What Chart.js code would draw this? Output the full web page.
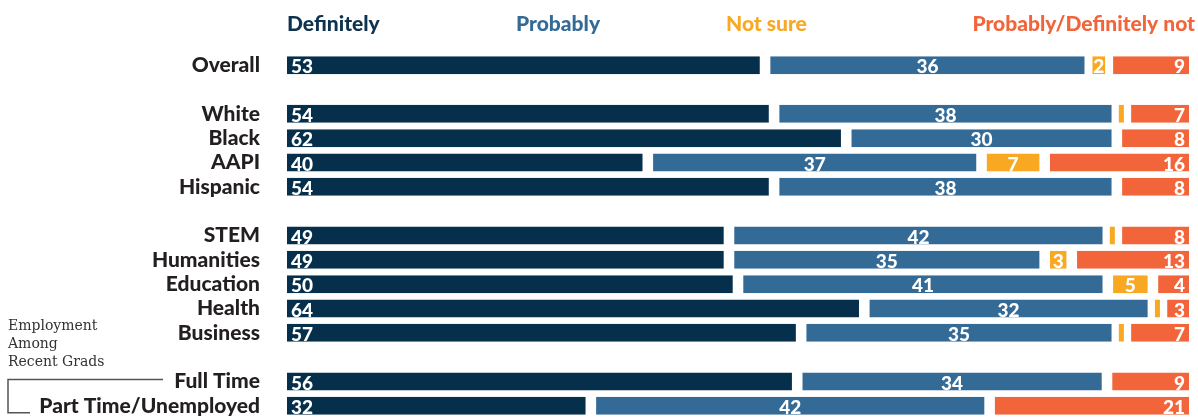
<!DOCTYPE html>
<html>
<head>
<meta charset="utf-8">
<script src="https://cdn.jsdelivr.net/npm/chart.js@4"></script>
<style>
  body { margin: 0; background: #fff; }
  #wrap { position: relative; width: 1198px; height: 419px; }
</style>
</head>
<body>
<div id="wrap"><canvas id="chart"></canvas></div>
<script>
// rows ('' = spacer row between groups)
const categories = ['Overall', '', 'White', 'Black', 'AAPI', 'Hispanic', '', 'STEM', 'Humanities', 'Education', 'Health', 'Business', '', 'Full Time', 'Part Time/Unemployed'];

const definitely    = [53, null, 54, 62, 40, 54, null, 49, 49, 50, 64, 57, null, 56, 32];
const probably      = [36, null, 38, 30, 37, 38, null, 42, 35, 41, 32, 35, null, 34, 42];
const notSure       = [2,  null, 1,  0,  7,  0,  null, 1,  3,  5,  1,  1,  null, 0,  0];
const definitelyNot = [9,  null, 7,  8,  16, 8,  null, 8,  13, 4,  3,  7,  null, 9,  21];

const seriesNames = ['Definitely', 'Probably', 'Not sure', 'Probably/Definitely not'];
const seriesColors = ['#052f4b', '#346a96', '#f8a821', '#f2653a'];
const seriesValues = [definitely, probably, notSure, definitelyNot];

// each row is drawn as a share of its own total, so every bar fills the width
const rowTotals = categories.map((c, i) => c ? definitely[i] + probably[i] + notSure[i] + definitelyNot[i] : 0);
const toShare = arr => arr.map((v, i) => v == null ? null : v / rowTotals[i] * 100);

const GAP = 5.3;

const datasets = seriesValues.map((vals, k) => ({
    label: seriesNames[k],
    data: toShare(vals),
    printed: vals,
    backgroundColor: seriesColors[k],
    borderColor: 'rgba(0,0,0,0)',
    borderSkipped: false,
    inflateAmount: 0,
    barThickness: 18,
    borderWidth: ctx => {
        const raw = vals[ctx.dataIndex];
        let g = GAP;
        if (raw != null && raw < 1.5) g = 2;
        else if (raw != null && raw < 3) g = 2.7;
        return { left: k === 0 ? 0 : g, right: k === 3 ? 0 : g, top: 0, bottom: 0 };
    }
}));

// numbers inside the bars
const valueLabels = {
    id: 'valueLabels',
    afterDatasetsDraw(chart) {
        const ctx = chart.ctx;
        ctx.save();
        ctx.font = '900 19px Lato';
        ctx.fillStyle = '#fff';
        ctx.textBaseline = 'middle';
        chart.data.datasets.forEach((ds, k) => {
            chart.getDatasetMeta(k).data.forEach((bar, j) => {
                const v = ds.printed[j];
                if (v == null || v < 2) return;
                const y = bar.y + 2;
                if (k === 0) {
                    ctx.textAlign = 'left';
                    ctx.fillText(v, bar.base + 4, y);
                } else if (k === 3) {
                    ctx.textAlign = 'right';
                    ctx.fillText(v, bar.x - 4, y);
                } else {
                    ctx.textAlign = 'center';
                    ctx.fillText(v, (bar.x + bar.base) / 2, y);
                }
            });
        });
        ctx.restore();
    }
};

// header row with the answer names
const header = {
    id: 'header',
    afterDraw(chart) {
        const ctx = chart.ctx;
        const pos = [[287, 'left'], [516, 'left'], [726, 'left'], [1195, 'right']];
        ctx.save();
        ctx.font = '900 21px Lato';
        ctx.textBaseline = 'alphabetic';
        seriesNames.forEach((name, k) => {
            ctx.fillStyle = k === 0 ? '#0e3350' : seriesColors[k];
            ctx.textAlign = pos[k][1];
            ctx.fillText(name, pos[k][0], 31);
        });
        ctx.restore();
    }
};

// note + bracket for the employment rows
const sideNote = {
    id: 'sideNote',
    afterDraw(chart) {
        const ctx = chart.ctx;
        const yScale = chart.scales.y;
        const yFull = yScale.getPixelForValue(13);
        const yPart = yScale.getPixelForValue(14);
        ctx.save();
        ctx.font = '14px "DejaVu Serif"';
        ctx.fillStyle = '#333';
        ctx.textAlign = 'left';
        ctx.fillText('Employment', 8, 330);
        ctx.fillText('Among', 8, 348);
        ctx.fillText('Recent Grads', 8, 366);
        ctx.strokeStyle = '#555';
        ctx.lineWidth = 1.5;
        ctx.beginPath();
        ctx.moveTo(163, yFull - 2);
        ctx.lineTo(8, yFull - 2);
        ctx.lineTo(8, yPart + 7);
        ctx.lineTo(30, yPart + 7);
        ctx.stroke();
        ctx.restore();
    }
};

new Chart(document.getElementById('chart'), {
    type: 'bar',
    data: { labels: categories, datasets: datasets },
    options: {
        indexAxis: 'y',
        responsive: true,
        maintainAspectRatio: false,
        animation: false,
        layout: { padding: { top: 53, bottom: 1, right: 9, left: 0 } },
        scales: {
            x: { stacked: true, min: 0, max: 100, display: false },
            y: {
                stacked: true,
                grid: { display: true, drawOnChartArea: false, drawTicks: true, tickLength: 27, color: 'rgba(0,0,0,0)' },
                border: { display: false },
                afterFit: s => {
                    s.width = 287;
                    s.paddingTop = 0;
                    s.paddingBottom = 0;
                },
                ticks: {
                    autoSkip: false,
                    padding: 0,
                    color: '#231f20',
                    font: { family: 'Lato', weight: '900', size: 21 }
                }
            }
        },
        plugins: {
            legend: { display: false },
            tooltip: { enabled: true }
        }
    },
    plugins: [valueLabels, header, sideNote]
});
</script>
</body>
</html>
